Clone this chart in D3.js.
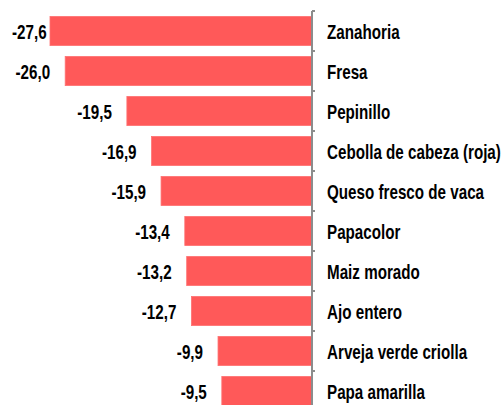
<!DOCTYPE html>
<html>
<head>
<meta charset="utf-8">
<script src="https://cdn.jsdelivr.net/npm/d3@7"></script>
<style>
  body { margin: 0; background: #fff; }
  svg { display: block; }
  .val, .cat { font-family: "Liberation Sans", Arial, sans-serif; font-weight: bold; font-size: 20px; fill: #000; }
</style>
</head>
<body>
<div id="graph"></div>
<script>
const categories = ["Zanahoria", "Fresa", "Pepinillo", "Cebolla de cabeza (roja)", "Queso fresco de vaca",
    "Papacolor", "Maiz morado", "Ajo entero", "Arveja verde criolla", "Papa amarilla"];
const values = [-27.6, -26.0, -19.5, -16.9, -15.9, -13.4, -13.2, -12.7, -9.9, -9.5];
const valueLabels = ["-27,6", "-26,0", "-19,5", "-16,9", "-15,9", "-13,4", "-13,2", "-12,7", "-9,9", "-9,5"];

const width = 502, height = 405;
// narrow look of the original font, made by squeezing the text horizontally
const squeeze = 0.76;
const data = categories.map((c, i) => ({ name: c, value: values[i], label: valueLabels[i] }));

const svg = d3.select("#graph").append("svg")
    .attr("width", width)
    .attr("height", height);

// Scales: zero line sits at the right, bars grow to the left
const x = d3.scaleLinear().domain([-27.6, 0]).range([50, 312]);
const y = d3.scaleBand().domain(categories).range([11, 411]).paddingInner(0.27).paddingOuter(0.135);
const midY = d => y(d.name) + y.bandwidth() / 2 + 8;

// Bars
svg.append("g").selectAll("rect").data(data).join("rect")
    .attr("x", d => x(d.value))
    .attr("y", d => y(d.name))
    .attr("width", d => x(0) - x(d.value))
    .attr("height", y.bandwidth())
    .attr("fill", "#ff5959")
    .attr("stroke", "#ff7272")
    .attr("stroke-width", 0.8);

// Value labels, pushed inside the view when they would run off the left edge
svg.append("g").selectAll("text").data(data).join("text")
    .attr("class", "val")
    .attr("text-anchor", "end")
    .text(d => d.label)
    .each(function (d) {
        const w = this.getBBox().width * squeeze;
        let ex = x(d.value) - 15;
        if (ex - w < 12) ex = 12 + w;
        d3.select(this).attr("transform", `translate(${ex},${midY(d)}) scale(${squeeze},1)`);
    });

// Axis line with small ticks at the category boundaries
const axis = svg.append("g");
const x0 = x(0);
axis.append("line")
    .attr("x1", x0).attr("x2", x0)
    .attr("y1", y.range()[0]).attr("y2", y.range()[1])
    .attr("stroke", "#8c8c8c").attr("stroke-width", 2);
axis.selectAll("line.tick").data(d3.range(categories.length + 1)).join("line")
    .attr("class", "tick")
    .attr("x1", x0).attr("x2", x0 + 3)
    .attr("y1", i => y.range()[0] + i * y.step())
    .attr("y2", i => y.range()[0] + i * y.step())
    .attr("stroke", "#8c8c8c").attr("stroke-width", 2);

// Category labels
svg.append("g").selectAll("text").data(data).join("text")
    .attr("class", "cat")
    .attr("transform", d => `translate(327,${midY(d)}) scale(${squeeze},1)`)
    .text(d => d.name);
</script>
</body>
</html>
